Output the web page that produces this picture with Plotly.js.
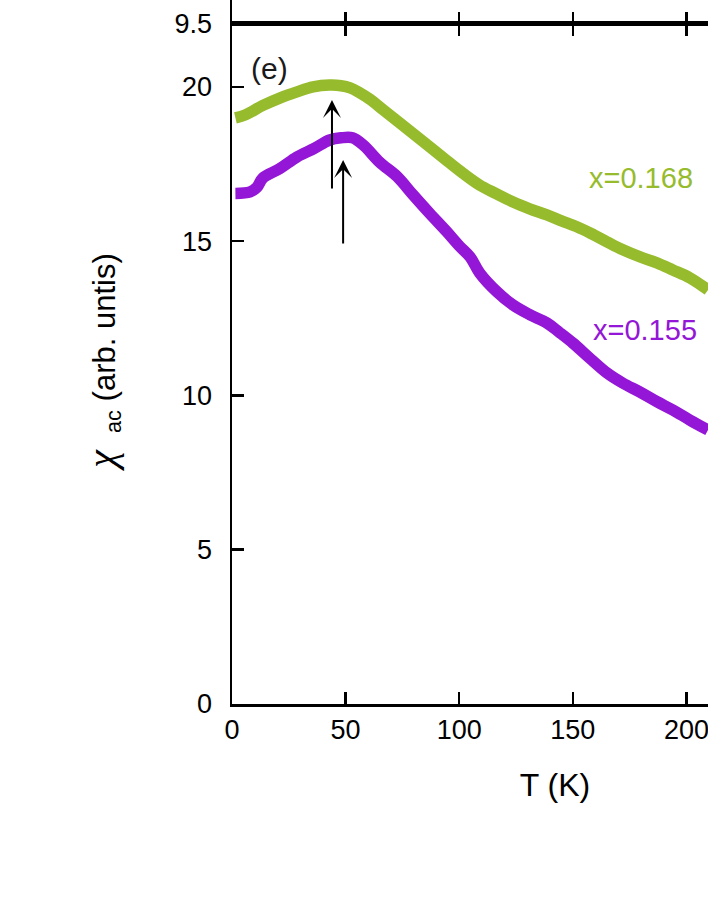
<!DOCTYPE html>
<html>
<head>
<meta charset="utf-8">
<script src="https://cdn.plot.ly/plotly-3.0.1.min.js"></script>
<style>
html,body{margin:0;padding:0;overflow:hidden;background:#fff;}
#chart{width:898px;height:917px;}
</style>
</head>
<body>
<div id="chart"></div>
<script>
// Temperature (K) and chi_ac values
var T168 = [1.5,6,13.6,21,28.6,35.7,43,48,52,56,60.7,66.5,74,82.7,94.6,101.7,109,116,123.7,131,138.6,145,152,158,165,172,179.6,187,194,201.6,209.5];
var chi168 = [19.0,19.1,19.4,19.64,19.84,20.0,20.06,20.04,19.97,19.82,19.6,19.26,18.82,18.31,17.61,17.2,16.82,16.55,16.27,16.05,15.85,15.66,15.46,15.25,14.98,14.72,14.49,14.3,14.07,13.81,13.42];
var T155 = [1.5,8,11,13.6,21,28.6,36,43,48,53,57.7,65,72.6,79.7,87,94.6,100,104.8,109,116.6,123.7,131,138.6,144,150,157.6,165,172,179.6,187,194,201.6,209.5];
var chi155 = [16.55,16.6,16.75,17.05,17.35,17.73,18.0,18.28,18.35,18.35,18.12,17.56,17.1,16.5,15.9,15.3,14.85,14.49,13.97,13.36,12.93,12.62,12.35,12.05,11.7,11.2,10.73,10.4,10.11,9.8,9.53,9.2,8.88];
var xTicks = [0,50,100,150,200,250];
var yTicks = [0,5,10,15,20];
var topPanelTicks = [9.5];
var labels = ["x=0.168","x=0.155"];
var peakT = [44,48.9];

var green = "#96bc2d";
var purple = "#9416d6";
var FONT = "Liberation Sans, Arial, sans-serif";

var traces = [
  {x:T168, y:chi168, mode:"lines", line:{color:green, width:11.5, shape:"spline"}, hoverinfo:"none"},
  {x:T155, y:chi155, mode:"lines", line:{color:purple, width:11.5, shape:"spline"}, hoverinfo:"none"},
  {x:[], y:[], xaxis:"x2", yaxis:"y2", mode:"lines"}
];

function ax(extra){
  return Object.assign({
    showline:true, linecolor:"#000", linewidth:2.5,
    ticks:"inside", ticklen:12, tickwidth:2.5, tickcolor:"#000",
    showgrid:false, zeroline:false,
    tickfont:{family:FONT, size:27, color:"#000"}
  }, extra);
}

var layout = {
  width:898, height:917,
  margin:{l:232, r:20, t:0, b:213},
  paper_bgcolor:"#fff", plot_bgcolor:"#fff",
  showlegend:false,
  xaxis: ax({range:[0,284.3], tickvals:xTicks, mirror:"ticks", anchor:"y",
    title:{text:"T (K)", font:{family:FONT, size:32, color:"#000"}, standoff:30}}),
  yaxis: ax({range:[0,22.04], tickvals:yTicks, domain:[0,0.96591], anchor:"x", ticklabelstandoff:12}),
  xaxis2: ax({range:[0,284.3], tickvals:xTicks, showticklabels:false, anchor:"y2"}),
  yaxis2: ax({range:[9.5,10.5], tickvals:topPanelTicks, domain:[0.96591,1], anchor:"x2", ticklabelstandoff:12}),
  annotations:[
    {xref:"paper", yref:"paper", x:-0.2, y:(917-213-362)/704,
     text:"<span style='font-family:Liberation Serif;font-style:italic;font-size:40px'>χ</span>\u00a0\u00a0<sub>ac</sub> (arb. untis)", textangle:-90,
     showarrow:false, font:{family:FONT, size:31, color:"#000"}, xanchor:"center", yanchor:"middle"},
    {xref:"x", yref:"y", x:16.7, y:20.6, text:"(e)", showarrow:false, font:{family:FONT, size:30, color:"#1a1a1a"}},
    {xref:"x", yref:"y", x:180, y:17.05, text:labels[0], showarrow:false, font:{family:FONT, size:29, color:green}},
    {xref:"x", yref:"y", x:181.8, y:12.12, text:labels[1], showarrow:false, font:{family:FONT, size:29, color:purple}},
    {xref:"x", yref:"y", x:peakT[0], y:19.58, axref:"x", ayref:"y", ax:peakT[0], ay:16.66, text:"", showarrow:true,
     arrowhead:3, arrowsize:1.5, arrowwidth:2, arrowcolor:"#000", standoff:0},
    {xref:"x", yref:"y", x:peakT[1], y:17.63, axref:"x", ayref:"y", ax:peakT[1], ay:14.88, text:"", showarrow:true,
     arrowhead:3, arrowsize:1.5, arrowwidth:2, arrowcolor:"#000", standoff:0}
  ]
};

Plotly.newPlot("chart", traces, layout, {staticPlot:true, displayModeBar:false});
</script>
</body>
</html>
